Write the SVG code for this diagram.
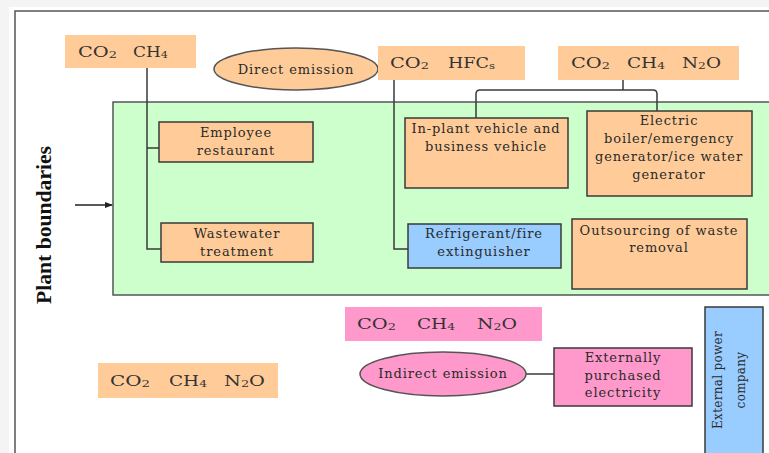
<svg xmlns="http://www.w3.org/2000/svg" width="769" height="453" viewBox="0 0 769 453">
<style>
.t{font-family:"DejaVu Serif","Liberation Serif",serif;font-size:13px;letter-spacing:0.9px;fill:#2a2a2a;text-anchor:middle}
.f{font-family:"DejaVu Serif","Liberation Serif",serif;font-size:15px;fill:#333}
.sub{font-size:10px}
.box{stroke:#3a3a3a;stroke-width:1.5}
.or{fill:#ffcc99}
.bl{fill:#99ccff}
.pk{fill:#ff99cc}
.ln{fill:none;stroke:#3a3a3a;stroke-width:1.5}
</style>
<defs>
<marker id="ar" markerWidth="8" markerHeight="8" refX="7" refY="4" orient="auto" markerUnits="userSpaceOnUse">
<path d="M0,1 L8,4 L0,7 z" fill="#222"/>
</marker>
</defs>
<rect x="0" y="0" width="769" height="453" fill="#f4f4f4"/>
<rect x="9" y="7" width="760" height="446" fill="#ffffff"/>
<path d="M15,453 V11 H769" fill="none" stroke="#555" stroke-width="1.5"/>

<g id="plant-boundary">
<rect x="113" y="102" width="665" height="193" fill="#ccffcc" stroke="#555" stroke-width="1.5"/>
<text x="51" y="225" transform="rotate(-90 51 225)" font-family="Liberation Serif,serif" font-weight="bold" font-size="21" text-anchor="middle" textLength="158" lengthAdjust="spacingAndGlyphs" fill="#111">Plant boundaries</text>
</g>

<g id="connectors">
<path class="ln" d="M147,68 V249 H161"/>
<path class="ln" d="M147,148 H159"/>
<path class="ln" d="M394,80 V249 H408"/>
<path class="ln" d="M623,80 V90"/>
<path class="ln" d="M476,118 V94 Q476,90 480,90 H653 Q657,90 657,94 V111"/>
<path class="ln" d="M526,374 H554"/>
<path d="M75,205 H112" fill="none" stroke="#222" stroke-width="1.5" marker-end="url(#ar)"/>
</g>

<g id="gas-top-left">
<rect class="or" x="65" y="35" width="131" height="33"/>
<text class="f" x="78" y="57" textLength="39" lengthAdjust="spacingAndGlyphs">CO<tspan class="sub" dy="1">2</tspan></text>
<text class="f" x="133" y="57" textLength="35" lengthAdjust="spacingAndGlyphs">CH<tspan class="sub" dy="1">4</tspan></text>
</g>

<g id="direct-emission">
<ellipse cx="296" cy="69" rx="82" ry="21" fill="#ffcc99" stroke="#555" stroke-width="1.5"/>
<text class="t" x="296" y="74">Direct emission</text>
</g>

<g id="gas-hfcs">
<rect class="or" x="378" y="46" width="147" height="34"/>
<text class="f" x="390" y="68" textLength="39" lengthAdjust="spacingAndGlyphs">CO<tspan class="sub" dy="1">2</tspan></text>
<text class="f" x="448" y="68" textLength="47" lengthAdjust="spacingAndGlyphs">HFC<tspan class="sub" dy="1">s</tspan></text>
</g>

<g id="gas-top-right">
<rect class="or" x="558" y="46" width="181" height="34"/>
<text class="f" x="571" y="68" textLength="39" lengthAdjust="spacingAndGlyphs">CO<tspan class="sub" dy="1">2</tspan></text>
<text class="f" x="627" y="68" textLength="38" lengthAdjust="spacingAndGlyphs">CH<tspan class="sub" dy="1">4</tspan></text>
<text class="f" x="682" y="68" textLength="39" lengthAdjust="spacingAndGlyphs">N<tspan class="sub" dy="1">2</tspan><tspan dy="-1">O</tspan></text>
</g>

<g id="employee-restaurant">
<rect class="box or" x="159" y="122" width="154" height="40"/>
<text class="t" x="236" y="137">Employee</text>
<text class="t" x="236" y="155">restaurant</text>
</g>

<g id="wastewater-treatment">
<rect class="box or" x="161" y="223" width="152" height="39"/>
<text class="t" x="237" y="238">Wastewater</text>
<text class="t" x="237" y="256">treatment</text>
</g>

<g id="in-plant-vehicle">
<rect class="box or" x="405" y="118" width="163" height="70"/>
<text class="t" x="486" y="133">In-plant vehicle and</text>
<text class="t" x="486" y="151">business vehicle</text>
</g>

<g id="electric-boiler">
<rect class="box or" x="587" y="111" width="165" height="85"/>
<text class="t" x="669" y="125">Electric</text>
<text class="t" x="669" y="143">boiler/emergency</text>
<text class="t" x="669" y="161">generator/ice water</text>
<text class="t" x="669" y="179">generator</text>
</g>

<g id="refrigerant">
<rect class="box bl" x="408" y="224" width="153" height="44"/>
<text class="t" x="484" y="238">Refrigerant/fire</text>
<text class="t" x="484" y="256">extinguisher</text>
</g>

<g id="outsourcing">
<rect class="box or" x="572" y="219" width="175" height="70"/>
<text class="t" x="659" y="235">Outsourcing of waste</text>
<text class="t" x="659" y="252">removal</text>
</g>

<g id="gas-pink">
<rect class="pk" x="345" y="307" width="197" height="34"/>
<text class="f" x="357" y="329" textLength="39" lengthAdjust="spacingAndGlyphs">CO<tspan class="sub" dy="1">2</tspan></text>
<text class="f" x="417" y="329" textLength="38" lengthAdjust="spacingAndGlyphs">CH<tspan class="sub" dy="1">4</tspan></text>
<text class="f" x="477" y="329" textLength="40" lengthAdjust="spacingAndGlyphs">N<tspan class="sub" dy="1">2</tspan><tspan dy="-1">O</tspan></text>
</g>

<g id="gas-bottom-left">
<rect class="or" x="98" y="363" width="180" height="35"/>
<text class="f" x="110" y="386" textLength="40" lengthAdjust="spacingAndGlyphs">CO<tspan class="sub" dy="1">2</tspan></text>
<text class="f" x="169" y="386" textLength="38" lengthAdjust="spacingAndGlyphs">CH<tspan class="sub" dy="1">4</tspan></text>
<text class="f" x="224" y="386" textLength="41" lengthAdjust="spacingAndGlyphs">N<tspan class="sub" dy="1">2</tspan><tspan dy="-1">O</tspan></text>
</g>

<g id="indirect-emission">
<ellipse cx="443" cy="374" rx="83" ry="22" fill="#ff99cc" stroke="#555" stroke-width="1.5"/>
<text class="t" x="443" y="378">Indirect emission</text>
</g>

<g id="externally-purchased">
<rect class="box pk" x="554" y="348" width="138" height="58"/>
<text class="t" x="623" y="362">Externally</text>
<text class="t" x="623" y="380">purchased</text>
<text class="t" x="623" y="397">electricity</text>
</g>

<g id="external-power">
<rect class="box bl" x="705" y="307" width="58" height="160"/>
<text class="t" x="722" y="380" transform="rotate(-90 722 380)" style="font-size:12px;letter-spacing:0.3px">External power</text>
<text class="t" x="745" y="380" transform="rotate(-90 745 380)" style="font-size:12px;letter-spacing:0.3px">company</text>
</g>
</svg>
